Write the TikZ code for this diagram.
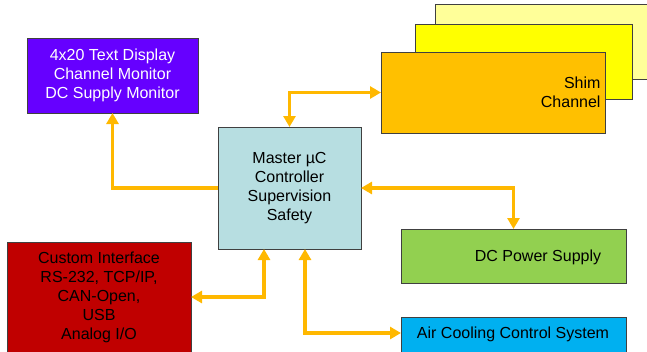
\documentclass[tikz,border=0pt]{standalone}
\usepackage{fontspec}
\setmainfont{Liberation Sans}
\usetikzlibrary{arrows.meta}
\definecolor{arrc}{HTML}{FFB800}
\definecolor{purp}{HTML}{6600FF}
\definecolor{mast}{HTML}{B7DEE1}
\definecolor{shimA}{HTML}{FFC000}
\definecolor{shimB}{HTML}{FFFF00}
\definecolor{shimC}{HTML}{FFFF99}
\definecolor{redb}{HTML}{C00000}
\definecolor{greenb}{HTML}{92D050}
\definecolor{blueb}{HTML}{00B0F0}
\definecolor{edge}{HTML}{404040}
\tikzset{
  box/.style={draw=edge, line width=0.9pt, inner sep=0pt, outer sep=0pt, anchor=north west,
    font=\fontsize{16}{19}\selectfont, align=center},
  lbl/.style={font=\fontsize{16}{19}\selectfont, inner sep=0pt},
  arr/.style={draw=arrc, line width=3.6pt, -{Triangle[length=11pt,width=12pt]}},
  darr/.style={draw=arrc, line width=3.6pt, {Triangle[length=11pt,width=12pt]}-{Triangle[length=11pt,width=12pt]}}
}
\begin{document}
\begin{tikzpicture}[x=1pt,y=-1pt]
\useasboundingbox (0,0) rectangle (647,351);
\begin{scope}
\clip (0,0) rectangle (647,351);
% shim stack
\node[box, fill=shimC, minimum width=212pt, minimum height=75pt] (shimc) at (435,4) {};
\node[box, fill=shimB, minimum width=217pt, minimum height=75pt] (shimb) at (415,24) {};
\node[box, fill=shimA, minimum width=224pt, minimum height=81pt, align=right, text width=215pt] (shim) at (381,52) {Shim\\Channel};
% display
\node[box, fill=purp, text=white, minimum width=171pt, minimum height=75pt] (disp) at (27,38) {4x20 Text Display\\Channel Monitor\\DC Supply Monitor};
% master
\node[box, fill=mast, minimum width=143pt, minimum height=122pt] (master) at (218,127) {Master µC\\Controller\\Supervision\\Safety};
% red interface
\node[box, fill=redb, text=black, minimum width=184pt, minimum height=110pt] (iface) at (7,242) {Custom Interface\\RS-232, TCP/IP,\\CAN-Open,\\USB\\Analog I/O};
% DC power
\node[box, fill=greenb, minimum width=225pt, minimum height=54pt] (dc) at (401,229) {};
\node[lbl] (dct) at (538,257) {DC Power Supply};
% air cooling
\node[box, fill=blueb, minimum width=225pt, minimum height=40pt] (air) at (401,317) {};
\node[lbl] (airt) at (513,334) {Air Cooling Control System};
% connectors
\draw[darr] (master.north) |- (shim.west);
\draw[arr] (master.west) -| (disp.south);
\draw[darr] (master.east) -| (dc.north);
\draw[darr] ([xshift=-25.5pt]master.south) |- (iface.east);
\draw[darr] ([xshift=15.5pt]master.south) |- ([yshift=4pt]air.west);
\end{scope}
\end{tikzpicture}
\end{document}
